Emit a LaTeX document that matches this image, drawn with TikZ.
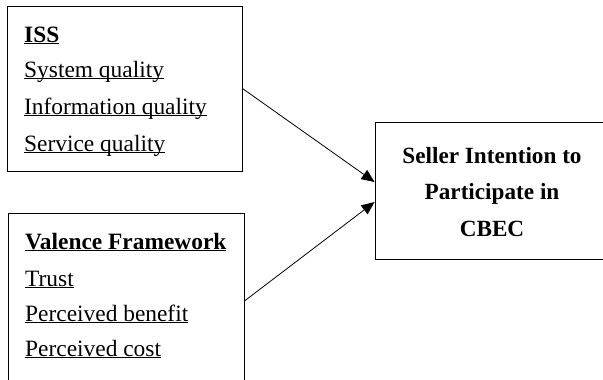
\documentclass[tikz,border=0pt]{standalone}
\usepackage{fontspec}
\setmainfont{Liberation Serif}
\usetikzlibrary{arrows.meta}
\newcommand\myul[2][1.2pt]{\setbox0\hbox{#2}\rlap{\rule[-2.4pt]{\wd0}{#1}}\box0}
\tikzset{
  boxnode/.style={draw=black, line width=0.9pt, inner sep=0pt, fill=none},
  lbl/.style={anchor=base west, inner sep=0pt, font=\fontsize{23.4}{27}\selectfont},
  blbl/.style={anchor=base, inner sep=0pt, font=\fontsize{23.2}{27}\selectfont\bfseries},
  arr/.style={line width=0.8pt, -{Triangle[length=13pt,width=11pt]}}
}
\begin{document}
\begin{tikzpicture}[x=1pt,y=-1pt]
\useasboundingbox (0,0) rectangle (603,380);
\begin{scope}
\clip (0,0) rectangle (603,380);
\node[boxnode, minimum width=235pt, minimum height=165pt] (iss) at (124.5,88.5) {};
\node[boxnode, minimum width=236pt, minimum height=176pt] (val) at (126,301) {};
\node[boxnode, minimum width=234pt, minimum height=137pt] (sel) at (492,190.5) {};
\end{scope}
\node[lbl] (t1) at (24,42) {\textbf{\myul[1.6pt]{ISS}}};
\node[lbl] (t2) at (24,77) {\myul{System quality}};
\node[lbl] (t3) at (24,114) {\myul{Information quality}};
\node[lbl] (t4) at (24,151) {\myul{Service quality}};
\node[lbl] (v1) at (25,249) {\textbf{\myul[1.6pt]{Valence Framework}}};
\node[lbl] (v2) at (25,286) {\myul{Trust}};
\node[lbl] (v3) at (25,321) {\myul{Perceived benefit}};
\node[lbl] (v4) at (25,356) {\myul{Perceived cost}};
\node[blbl] (s1) at (492,163) {Seller Intention to};
\node[blbl] (s2) at (492,199) {Participate in};
\node[blbl] (s3) at (492,236) {CBEC};
\coordinate (in1) at ([yshift=8.5pt]sel.west);
\coordinate (in2) at ([yshift=-11.5pt]sel.west);
\draw[arr] (iss.east) -- (in1);
\draw[arr] (val.east) -- (in2);
\end{tikzpicture}
\end{document}
